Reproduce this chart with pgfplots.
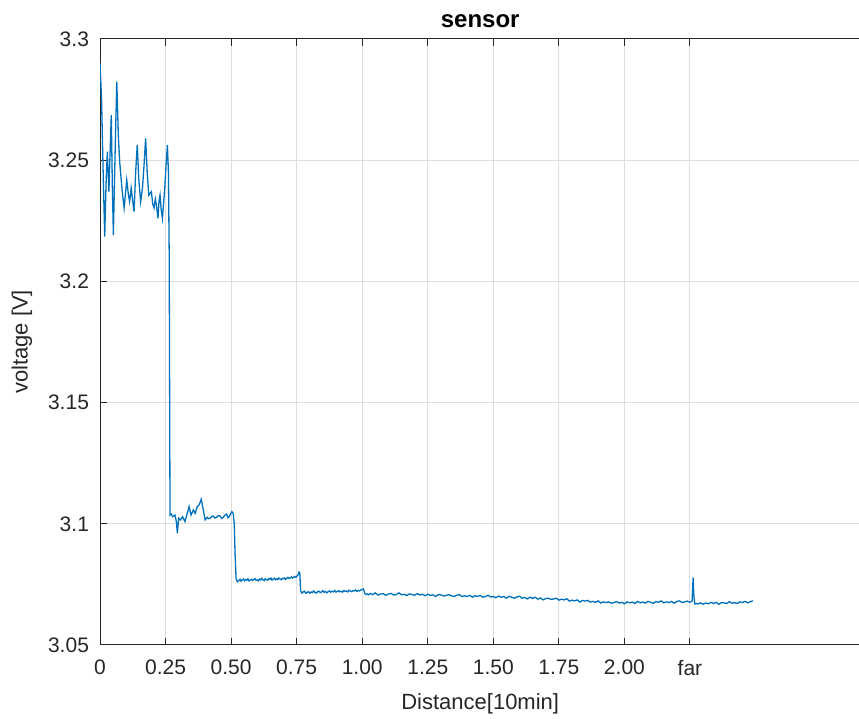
\documentclass[border=0pt]{standalone}
\usepackage{fontspec}
\setmainfont{Liberation Sans}
\usepackage{pgfplots}
\pgfplotsset{compat=1.18}
\definecolor{mlblue}{HTML}{0072BD}
\definecolor{axgray}{HTML}{262626}
\definecolor{gridgray}{HTML}{DEDEDE}
\begin{document}
\begin{tikzpicture}
\begin{axis}[
  name=ax,
  scale only axis,
  width=380.2pt, height=303pt,
  xmin=0, xmax=2.9, ymin=3.05, ymax=3.3,
  axis x line*=box, axis y line*=left,
  axis line style={-, axgray, line width=0.5pt},
  xtick={0,0.25,0.5,0.75,1,1.25,1.5,1.75,2,2.25},
  xticklabels={0,0.25,0.50,0.75,1.00,1.25,1.50,1.75,2.00,far},
  ytick={3.05,3.1,3.15,3.2,3.25,3.3},
  yticklabels={3.05,3.1,3.15,3.2,3.25,3.3},
  tick style={axgray, line width=0.5pt},
  major tick length=3.5pt,
  tick align=inside,
  grid=major,
  major grid style={gridgray, line width=0.5pt},
  ticklabel style={font=\fontsize{10.5}{12}\selectfont, text=axgray},
  xticklabel style={yshift=-4pt},
  yticklabel style={xshift=-2pt},
  /pgf/number format/assume math mode=true,
  xlabel={Distance[10min]},
  ylabel={voltage [V]},
  title={sensor},
  label style={font=\fontsize{11}{13}\selectfont, text=axgray},
  xlabel style={at={(axis description cs:0.5,0)}, anchor=center, yshift=-29.5pt},
  ylabel style={at={([xshift=-39pt]axis description cs:0,0.5)}, anchor=center},
  title style={at={(axis description cs:0.5,1)}, anchor=center, yshift=3pt, font=\fontsize{12}{14}\selectfont\bfseries, text=black},
]
\addplot[mlblue, line width=0.65pt] coordinates {
(0.000,3.2900) (0.006,3.2750) (0.012,3.2450) (0.018,3.2185) (0.023,3.2400) (0.028,3.2535)
(0.034,3.2370) (0.039,3.2550) (0.043,3.2686) (0.047,3.2400) (0.051,3.2191)
(0.058,3.2550) (0.064,3.2824) (0.070,3.2600) (0.075,3.2494) (0.084,3.2380) (0.092,3.2303)
(0.102,3.2418) (0.108,3.2360) (0.113,3.2329) (0.119,3.2385) (0.125,3.2330) (0.130,3.2288)
(0.136,3.2450) (0.142,3.2563) (0.148,3.2420) (0.155,3.2329) (0.162,3.2385) (0.168,3.2480)
(0.174,3.2590) (0.180,3.2450) (0.186,3.2356) (0.196,3.2370) (0.201,3.2320) (0.206,3.2303)
(0.211,3.2340) (0.215,3.2315) (0.221,3.2260) (0.225,3.2330) (0.229,3.2356) (0.233,3.2300)
(0.238,3.2260) (0.243,3.2330) (0.247,3.2385) (0.252,3.2480) (0.257,3.2563) (0.261,3.2450)
(0.264,3.2100) (0.266,3.1400) (0.267,3.1036)
(0.272,3.1040) (0.277,3.1029) (0.282,3.1033) (0.286,3.1036) (0.291,3.1010) (0.295,3.0961)
(0.300,3.1023) (0.307,3.1016) (0.315,3.1029) (0.324,3.1009) (0.333,3.1043) (0.340,3.1071)
(0.347,3.1036) (0.356,3.1057) (0.363,3.1043) (0.371,3.1071) (0.378,3.1078) (0.386,3.1101)
(0.394,3.1057) (0.401,3.1016) (0.409,3.1027) (0.414,3.1021) (0.420,3.1023) (0.426,3.1030)
(0.432,3.1032) (0.438,3.1024) (0.445,3.1027) (0.451,3.1034) (0.458,3.1032) (0.464,3.1022)
(0.470,3.1027) (0.477,3.1036) (0.483,3.1040) (0.488,3.1025) (0.493,3.1029) (0.498,3.1041)
(0.503,3.1050) (0.508,3.1043) (0.512,3.1000) (0.515,3.0880) (0.519,3.0775) (0.524,3.0761)
(0.530,3.0766) (0.534,3.0771) (0.538,3.0763) (0.543,3.0769) (0.547,3.0772) (0.551,3.0765)
(0.556,3.0770) (0.560,3.0767) (0.564,3.0773) (0.569,3.0764) (0.573,3.0768) (0.578,3.0771)
(0.582,3.0766) (0.586,3.0770) (0.591,3.0774) (0.595,3.0767) (0.600,3.0769) (0.604,3.0765)
(0.608,3.0772) (0.613,3.0768) (0.617,3.0775) (0.621,3.0769) (0.626,3.0766) (0.630,3.0773)
(0.634,3.0770) (0.639,3.0767) (0.643,3.0774) (0.648,3.0771) (0.652,3.0776) (0.656,3.0768)
(0.661,3.0772) (0.665,3.0775) (0.669,3.0769) (0.674,3.0773) (0.678,3.0770) (0.682,3.0776)
(0.687,3.0772) (0.691,3.0769) (0.695,3.0775) (0.700,3.0773) (0.704,3.0777) (0.708,3.0771)
(0.713,3.0776) (0.717,3.0779) (0.721,3.0774) (0.726,3.0777) (0.730,3.0781) (0.734,3.0776)
(0.739,3.0780) (0.743,3.0783) (0.747,3.0779) (0.752,3.0785) (0.756,3.0790) (0.759,3.0801)
(0.762,3.0798) (0.765,3.0725)
(0.770,3.0714) (0.775,3.0719) (0.780,3.0722) (0.785,3.0713) (0.790,3.0717) (0.795,3.0720)
(0.800,3.0714) (0.805,3.0719) (0.810,3.0716) (0.815,3.0723) (0.820,3.0717) (0.825,3.0714)
(0.830,3.0720) (0.835,3.0722) (0.840,3.0716) (0.845,3.0719) (0.850,3.0724) (0.855,3.0717)
(0.860,3.0721) (0.865,3.0715) (0.870,3.0720) (0.875,3.0723) (0.880,3.0718) (0.885,3.0722)
(0.890,3.0719) (0.895,3.0725) (0.900,3.0718) (0.905,3.0721) (0.910,3.0724) (0.915,3.0719)
(0.920,3.0722) (0.925,3.0718) (0.930,3.0725) (0.935,3.0721) (0.940,3.0723) (0.945,3.0719)
(0.950,3.0726) (0.955,3.0722) (0.960,3.0720) (0.965,3.0725) (0.970,3.0723) (0.975,3.0727)
(0.980,3.0721) (0.985,3.0725) (0.990,3.0723) (0.995,3.0727) (1.000,3.0729) (1.005,3.0731)
(1.010,3.0712) (1.015,3.0708) (1.020,3.0711) (1.025,3.0707)
(1.03,3.0713) (1.04,3.0708) (1.05,3.0715) (1.06,3.0706) (1.07,3.0710) (1.08,3.0712)
(1.09,3.0705) (1.10,3.0710) (1.11,3.0713) (1.12,3.0706) (1.13,3.0708) (1.14,3.0715)
(1.15,3.0707) (1.16,3.0709) (1.17,3.0704) (1.18,3.0711) (1.19,3.0708) (1.20,3.0705)
(1.21,3.0712) (1.22,3.0706) (1.23,3.0709) (1.24,3.0703) (1.25,3.0710) (1.26,3.0704)
(1.27,3.0707) (1.28,3.0700) (1.29,3.0708) (1.30,3.0707) (1.31,3.0702) (1.32,3.0704)
(1.33,3.0708) (1.34,3.0703) (1.35,3.0700) (1.36,3.0705) (1.37,3.0708) (1.38,3.0700)
(1.39,3.0703) (1.40,3.0700) (1.41,3.0705) (1.42,3.0697) (1.43,3.0703) (1.44,3.0700)
(1.45,3.0705) (1.46,3.0697) (1.47,3.0700) (1.48,3.0705) (1.49,3.0698) (1.50,3.0700)
(1.51,3.0695) (1.52,3.0702) (1.53,3.0697) (1.54,3.0700) (1.55,3.0693) (1.56,3.0701)
(1.57,3.0697) (1.58,3.0693) (1.59,3.0698) (1.60,3.0701) (1.61,3.0693) (1.62,3.0696)
(1.63,3.0690) (1.64,3.0697) (1.65,3.0692) (1.66,3.0697) (1.67,3.0689) (1.68,3.0694)
(1.69,3.0686) (1.70,3.0692) (1.71,3.0693) (1.72,3.0688) (1.73,3.0690) (1.74,3.0693)
(1.75,3.0685) (1.76,3.0689) (1.77,3.0686) (1.78,3.0691) (1.79,3.0681) (1.80,3.0685)
(1.81,3.0682) (1.82,3.0686) (1.83,3.0677) (1.84,3.0684) (1.85,3.0681) (1.86,3.0684)
(1.87,3.0677) (1.88,3.0680) (1.89,3.0676) (1.90,3.0682) (1.91,3.0673) (1.92,3.0678)
(1.93,3.0675) (1.94,3.0678) (1.95,3.0672) (1.96,3.0675) (1.97,3.0679) (1.98,3.0673)
(1.99,3.0676) (2.00,3.0670) (2.01,3.0678) (2.02,3.0674) (2.03,3.0677) (2.04,3.0671)
(2.05,3.0680) (2.06,3.0674) (2.07,3.0677) (2.08,3.0673) (2.09,3.0680) (2.10,3.0676)
(2.11,3.0672) (2.12,3.0679) (2.13,3.0676) (2.14,3.0682) (2.15,3.0674) (2.16,3.0678)
(2.17,3.0675) (2.18,3.0680) (2.19,3.0672) (2.20,3.0680) (2.21,3.0682) (2.22,3.0675)
(2.23,3.0678) (2.24,3.0681) (2.25,3.0676) (2.258,3.0680) (2.262,3.0778) (2.265,3.0700)
(2.269,3.0669) (2.275,3.0671) (2.28,3.0669) (2.29,3.0674) (2.30,3.0668) (2.31,3.0673)
(2.32,3.0670) (2.33,3.0676) (2.34,3.0671) (2.35,3.0676) (2.36,3.0668) (2.37,3.0675)
(2.38,3.0674) (2.39,3.0671) (2.40,3.0679) (2.41,3.0672) (2.42,3.0675) (2.43,3.0671)
(2.44,3.0678) (2.45,3.0675) (2.46,3.0680) (2.47,3.0674) (2.48,3.0679) (2.49,3.0682)
};
\end{axis}
\pgfresetboundingbox
\path[use as bounding box] ([xshift=-50pt,yshift=-37pt]ax.south west) rectangle ([xshift=-0.7pt,yshift=19.5pt]ax.north east);
\end{tikzpicture}
\end{document}
